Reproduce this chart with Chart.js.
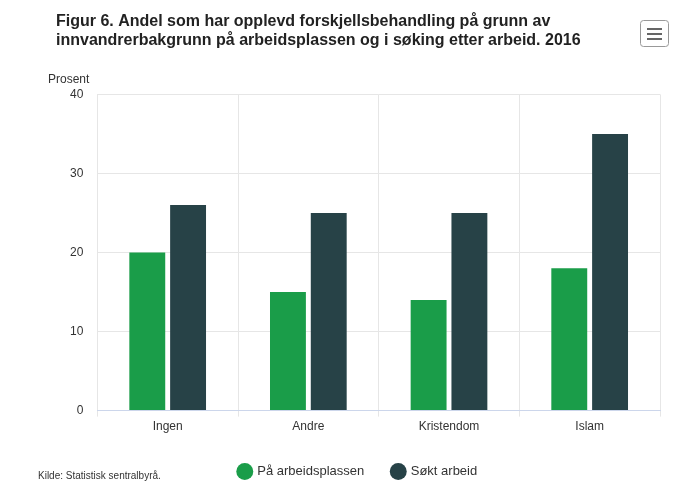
<!DOCTYPE html>
<html>
<head>
<meta charset="utf-8">
<script src="https://cdn.jsdelivr.net/npm/chart.js@4"></script>
<style>
  html, body { margin: 0; padding: 0; background: #fff; }
  #wrap { width: 692px; height: 494px; }
</style>
</head>
<body>
<div id="wrap"><canvas id="myChart" width="692" height="494"></canvas></div>
<script>
const categories = ['Ingen', 'Andre', 'Kristendom', 'Islam']
const paArbeidsplassen = [20, 15, 14, 18]
const soktArbeid = [26, 25, 25, 35]
const yTicks = [0, 10, 20, 30, 40]

const extras = {
    id: 'extras',
    afterDraw(chart) {
        const c = chart.ctx
        c.save()
        c.fillStyle = '#333'
        c.font = '12px Arial, "Liberation Sans", sans-serif'
        c.textBaseline = 'middle'
        c.fillText('Prosent', 48, 80)
        c.font = '10px Arial, "Liberation Sans", sans-serif'
        c.fillText('Kilde: Statistisk sentralbyrå.', 38, 476)
        // menu button
        c.strokeStyle = '#999'
        c.lineWidth = 1
        c.beginPath()
        c.roundRect(640.5, 20.5, 28, 26, 3)
        c.fillStyle = '#fff'
        c.fill()
        c.stroke()
        c.fillStyle = '#666'
        for (let i = 0; i < 3; i++) c.fillRect(647, 28 + i * 5, 15, 2)
        c.restore()
    }
}

new Chart(document.getElementById('myChart'), {
    type: 'bar',
    data: {
        labels: categories,
        datasets: [
            { label: 'På arbeidsplassen', data: paArbeidsplassen, backgroundColor: '#1a9d49' },
            { label: 'Søkt arbeid', data: soktArbeid, backgroundColor: '#274247' }
        ]
    },
    options: {
        responsive: false,
        animation: false,
        layout: { padding: { left: 56, right: 32, top: 0, bottom: 6 } },
        datasets: { bar: { categoryPercentage: 0.58, barPercentage: 0.88 } },
        scales: {
            x: {
                grid: { offset: true, color: '#e6e6e6', drawTicks: true, tickLength: 6 },
                border: { color: '#ccd6eb' },
                ticks: { color: '#333', font: { size: 12, family: 'Arial, "Liberation Sans", sans-serif' } }
            },
            y: {
                min: 0, max: 40,
                afterBuildTicks(axis) { axis.ticks = yTicks.map(v => ({ value: v })) },
                grid: { color: '#e6e6e6', drawTicks: false },
                border: { display: false },
                ticks: { color: '#333', padding: 14, font: { size: 12, family: 'Arial, "Liberation Sans", sans-serif' } }
            }
        },
        plugins: {
            title: {
                display: true,
                align: 'start',
                text: ['Figur 6. Andel som har opplevd forskjellsbehandling på grunn av', 'innvandrerbakgrunn på arbeidsplassen og i søking etter arbeid. 2016'],
                color: '#222',
                font: { size: 16, weight: 'bold', family: 'Arial, "Liberation Sans", sans-serif' },
                padding: { top: 12, bottom: 44 }
            },
            legend: {
                position: 'bottom',
                labels: {
                    usePointStyle: true, pointStyle: 'circle', boxWidth: 12, boxHeight: 12,
                    padding: 28, color: '#333',
                    font: { size: 13, family: 'Arial, "Liberation Sans", sans-serif' }
                }
            },
            tooltip: { enabled: false }
        }
    },
    plugins: [extras]
})
</script>
</body>
</html>
